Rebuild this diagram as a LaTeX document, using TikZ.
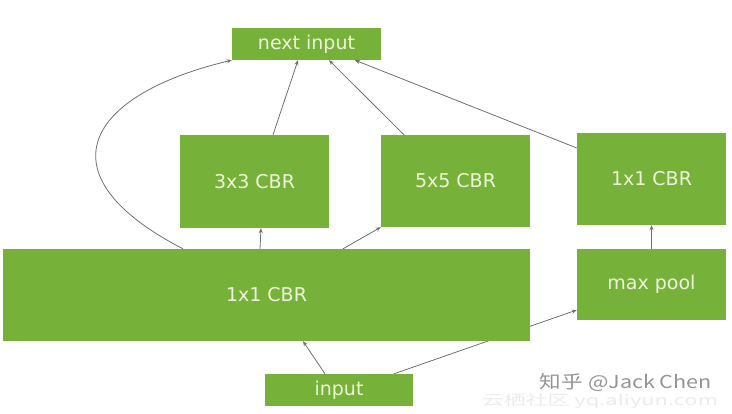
\documentclass[tikz,border=0pt]{standalone}
\usepackage{fontspec}
\setmainfont{DejaVu Sans}
\newfontfamily\cjkfont{Noto Sans CJK SC}
\usetikzlibrary{arrows.meta,backgrounds}
\definecolor{boxgreen}{HTML}{76B13A}
\definecolor{boxtext}{HTML}{EEF5DA}
\definecolor{linegray}{HTML}{6E6E6E}
\tikzset{
  blk/.style={draw=none,fill=boxgreen,text=boxtext,font=\fontsize{19}{22}\selectfont,inner sep=0pt,anchor=center},
  conn/.style={draw=linegray,line width=0.8pt,-{Stealth[length=5pt,width=4pt]}},
  wmark/.style={inner sep=0pt,anchor=center},
}
\begin{document}
\begin{tikzpicture}[x=1pt,y=-1pt]
\useasboundingbox (0,0) rectangle (732,413);
\node[blk,minimum width=149pt,minimum height=32pt] (next) at (306.5,44) {next input};
\node[blk,minimum width=149pt,minimum height=93pt] (c3) at (254.5,181.5) {3x3 CBR};
\node[blk,minimum width=149pt,minimum height=92pt] (c5) at (455.5,181) {5x5 CBR};
\node[blk,minimum width=149pt,minimum height=92pt] (c1r) at (651.5,179) {1x1 CBR};
\node[blk,minimum width=527pt,minimum height=92pt] (big) at (266.5,295) {1x1 CBR};
\node[blk,minimum width=149pt,minimum height=71pt] (mp) at (651.5,284.5) {max pool};
\node[blk,minimum width=148pt,minimum height=32pt] (in) at (339,390) {input};
\begin{pgfonlayer}{background}
\draw[conn] (in.north -| 394,0) -- (mp.west |- 0,310);
\end{pgfonlayer}
\draw[conn] (in.north -| 325,0) -- (big.south -| 303,0);
\draw[conn] (big.north -| 260,0) -- (c3.south -| 261,0);
\draw[conn] (big.north -| 343,0) -- (c5.south west);
\draw[conn] (big.north -| 183,0) .. controls (40,175) and (85,95) .. (next.south west);
\draw[conn] (c3.north -| 273,0) -- (next.south -| 298,0);
\draw[conn] (c5.north -| 404,0) -- (next.south -| 329,0);
\draw[conn] (c1r.west |- 0,148) -- (next.south -| 355,0);
\draw[conn] (mp.north) -- (c1r.south);
\node[wmark,text=black!8] (wm2) at (600,401.5) {\resizebox{236pt}{12pt}{\cjkfont 云栖社区 yq.aliyun.com}};
\node[wmark,text=black!42] (wm1) at (626,383) {\resizebox{172pt}{15pt}{\cjkfont 知乎 @Jack Chen}};
\end{tikzpicture}
\end{document}
